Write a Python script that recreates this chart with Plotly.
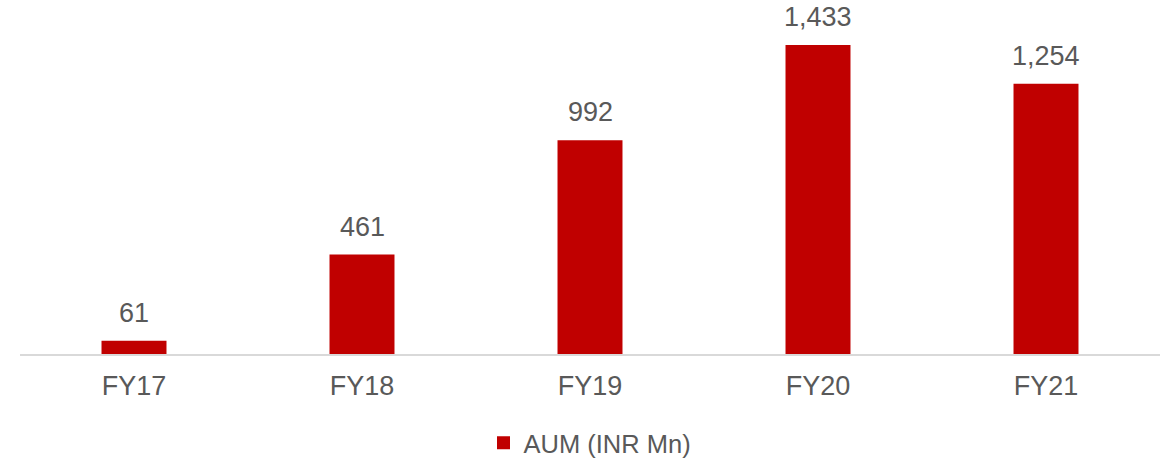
import plotly.graph_objects as go

# AUM by fiscal year (INR Mn)
years = ["FY17", "FY18", "FY19", "FY20", "FY21"]
aum = [61, 461, 992, 1433, 1254]
series_name = "AUM (INR Mn)"

BAR_RED = "#c00000"
TEXT_GREY = "#595959"
AXIS_GREY = "#d9d9d9"
FONT = "Liberation Sans, Arial, sans-serif"

fig = go.Figure()
fig.add_trace(go.Bar(
    x=years,
    y=aum,
    name=series_name,
    marker=dict(color=BAR_RED, line=dict(width=0)),
    showlegend=False,
))
# legend entry with a larger square swatch
fig.add_trace(go.Scatter(
    x=[None], y=[None], mode="markers", name=series_name,
    marker=dict(symbol="square", size=13, color=BAR_RED),
    showlegend=True,
))

# value labels sitting above each bar
for yr, v in zip(years, aum):
    fig.add_annotation(
        x=yr, y=v, text=f"{v:,}", showarrow=False,
        yanchor="middle", yshift=28,
        font=dict(family=FONT, size=27, color=TEXT_GREY),
    )

fig.update_layout(
    width=1163, height=464,
    margin=dict(l=20, r=3, t=0, b=110, autoexpand=False),
    paper_bgcolor="white", plot_bgcolor="white",
    bargap=0.715,
    font=dict(family=FONT, color=TEXT_GREY),
    legend=dict(
        orientation="h", x=0.5, xanchor="center",
        yref="container", y=0.045, yanchor="middle",
        font=dict(family=FONT, size=25.5, color=TEXT_GREY),
        itemwidth=30,
    ),
)
fig.update_xaxes(
    type="category",
    showline=True, linecolor=AXIS_GREY, linewidth=1.5,
    showgrid=False, ticks="", ticklabelstandoff=7,
    tickfont=dict(family=FONT, size=27, color=TEXT_GREY),
)
fig.update_yaxes(
    range=[0, 1642], visible=False, showgrid=False, zeroline=False,
)

fig.write_html("out.html")
